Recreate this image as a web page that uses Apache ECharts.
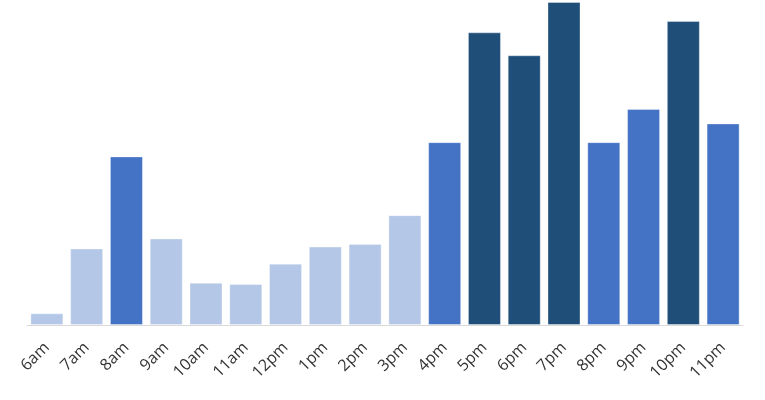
<!DOCTYPE html>
<html><head><meta charset="utf-8">
<script src="https://cdn.jsdelivr.net/npm/echarts@6/dist/echarts.min.js"></script>
<style>html,body{margin:0;padding:0;background:#fff}#c{width:765px;height:400px}</style>
</head><body><div id="c"></div>
<script>
const categories = ['6am','7am','8am','9am','10am','11am','12pm','1pm','2pm','3pm','4pm','5pm','6pm','7pm','8pm','9pm','10pm','11pm'];
const values = [3.6,23.7,52.2,26.8,13.1,12.7,19.0,24.3,25.1,34.0,56.6,90.6,83.5,100,56.6,66.9,94.1,62.4];
const chart = echarts.init(document.getElementById('c'));
chart.setOption({
  animation:false,
  grid:{left:27,right:22,top:2,bottom:75},
  visualMap:{show:false,type:'piecewise',dimension:1,seriesIndex:0,pieces:[
    {lt:45,color:'#b4c7e7'},{gte:45,lt:75,color:'#4472c4'},{gte:75,color:'#1f4e79'}]},
  xAxis:{type:'category',data:categories,
    axisLine:{lineStyle:{color:'#d9d9d9',width:1}},axisTick:{show:false},
    axisLabel:{rotate:45,margin:20,fontSize:16,color:'#333333',fontFamily:'Open Sans',interval:0}},
  yAxis:{type:'value',min:0,max:100,show:false,splitLine:{show:false}},
  series:[{type:'bar',data:values,barCategoryGap:'17%',
    itemStyle:{borderColor:'rgba(255,255,255,0.35)',borderWidth:1}}]
});
</script></body></html>
